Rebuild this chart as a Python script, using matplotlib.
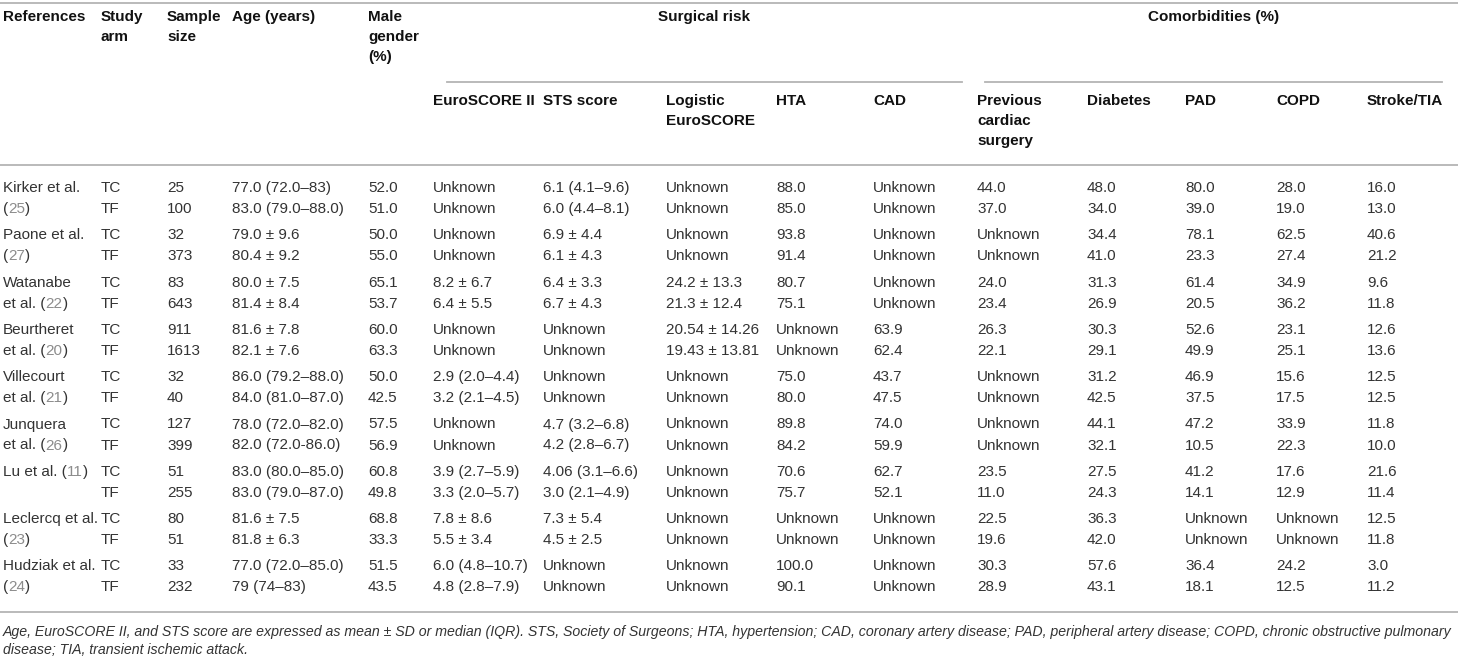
import matplotlib
matplotlib.use("Agg")
import matplotlib.pyplot as plt

plt.rcParams['font.family'] = ['Liberation Sans', 'DejaVu Sans']

# ---- table data ----
ref_top = ["Kirker et al.", "Paone et al.", "Watanabe", "Beurtheret", "Villecourt",
           "Junquera", "Lu et al. ({})", "Leclercq et al.", "Hudziak et al."]
ref_bottom = ["({})", "({})", "et al. ({})", "et al. ({})", "et al. ({})",
              "et al. ({})", "", "({})", "({})"]
cite_nums = [25, 27, 22, 20, 21, 26, 11, 23, 24]
study_arm = ["TC", "TF"]

sample_size = [25, 100, 32, 373, 83, 643, 911, 1613, 32, 40, 127, 399, 51, 255, 80, 51, 33, 232]
age = ["77.0 (72.0–83)", "83.0 (79.0–88.0)", "79.0 ± 9.6", "80.4 ± 9.2", "80.0 ± 7.5",
       "81.4 ± 8.4", "81.6 ± 7.8", "82.1 ± 7.6", "86.0 (79.2–88.0)", "84.0 (81.0–87.0)",
       "78.0 (72.0–82.0)", "82.0 (72.0-86.0)", "83.0 (80.0–85.0)", "83.0 (79.0–87.0)",
       "81.6 ± 7.5", "81.8 ± 6.3", "77.0 (72.0–85.0)", "79 (74–83)"]
male = ["52.0", "51.0", "50.0", "55.0", "65.1", "53.7", "60.0", "63.3", "50.0", "42.5",
        "57.5", "56.9", "60.8", "49.8", "68.8", "33.3", "51.5", "43.5"]
euroscore2 = ["Unknown", "Unknown", "Unknown", "Unknown", "8.2 ± 6.7", "6.4 ± 5.5",
              "Unknown", "Unknown", "2.9 (2.0–4.4)", "3.2 (2.1–4.5)", "Unknown", "Unknown",
              "3.9 (2.7–5.9)", "3.3 (2.0–5.7)", "7.8 ± 8.6", "5.5 ± 3.4",
              "6.0 (4.8–10.7)", "4.8 (2.8–7.9)"]
sts = ["6.1 (4.1–9.6)", "6.0 (4.4–8.1)", "6.9 ± 4.4", "6.1 ± 4.3", "6.4 ± 3.3", "6.7 ± 4.3",
       "Unknown", "Unknown", "Unknown", "Unknown", "4.7 (3.2–6.8)", "4.2 (2.8–6.7)",
       "4.06 (3.1–6.6)", "3.0 (2.1–4.9)", "7.3 ± 5.4", "4.5 ± 2.5", "Unknown", "Unknown"]
logistic = ["Unknown", "Unknown", "Unknown", "Unknown", "24.2 ± 13.3", "21.3 ± 12.4",
            "20.54 ± 14.26", "19.43 ± 13.81", "Unknown", "Unknown", "Unknown", "Unknown",
            "Unknown", "Unknown", "Unknown", "Unknown", "Unknown", "Unknown"]
hta = ["88.0", "85.0", "93.8", "91.4", "80.7", "75.1", "Unknown", "Unknown", "75.0", "80.0",
       "89.8", "84.2", "70.6", "75.7", "Unknown", "Unknown", "100.0", "90.1"]
cad = ["Unknown", "Unknown", "Unknown", "Unknown", "Unknown", "Unknown", "63.9", "62.4",
       "43.7", "47.5", "74.0", "59.9", "62.7", "52.1", "Unknown", "Unknown", "Unknown", "Unknown"]
prev_surgery = ["44.0", "37.0", "Unknown", "Unknown", "24.0", "23.4", "26.3", "22.1", "Unknown",
                "Unknown", "Unknown", "Unknown", "23.5", "11.0", "22.5", "19.6", "30.3", "28.9"]
diabetes = ["48.0", "34.0", "34.4", "41.0", "31.3", "26.9", "30.3", "29.1", "31.2", "42.5",
            "44.1", "32.1", "27.5", "24.3", "36.3", "42.0", "57.6", "43.1"]
pad = ["80.0", "39.0", "78.1", "23.3", "61.4", "20.5", "52.6", "49.9", "46.9", "37.5", "47.2",
       "10.5", "41.2", "14.1", "Unknown", "Unknown", "36.4", "18.1"]
copd = ["28.0", "19.0", "62.5", "27.4", "34.9", "36.2", "23.1", "25.1", "15.6", "17.5", "33.9",
        "22.3", "17.6", "12.9", "Unknown", "Unknown", "24.2", "12.5"]
stroke = ["16.0", "13.0", "40.6", "21.2", "9.6", "11.8", "12.6", "13.6", "12.5", "12.5", "11.8",
          "10.0", "21.6", "11.4", "12.5", "11.8", "3.0", "11.2"]

headers_top = [["References"], ["Study", "arm"], ["Sample", "size"], ["Age (years)"],
               ["Male", "gender", "(%)"]]
headers_sub = [["EuroSCORE II"], ["STS score"], ["Logistic", "EuroSCORE"], ["HTA"], ["CAD"],
               ["Previous", "cardiac", "surgery"], ["Diabetes"], ["PAD"], ["COPD"], ["Stroke/TIA"]]
group_titles = ["Surgical risk", "Comorbidities (%)"]

footnote = ["Age, EuroSCORE II, and STS score are expressed as mean ± SD or median (IQR). "
            "STS, Society of Surgeons; HTA, hypertension; CAD, coronary artery disease; "
            "PAD, peripheral artery disease; COPD, chronic obstructive pulmonary",
            "disease; TIA, transient ischemic attack."]

# ---- layout ----
W, H = 1458, 659
fig = plt.figure(figsize=(W / 100, H / 100), dpi=100)
ax = fig.add_axes([0, 0, 1, 1])
ax.set_xlim(0, W)
ax.set_ylim(H, 0)
ax.axis('off')

FS = 11
TXT = '#333333'
HEAD = '#111111'
GRAY = '#8c8c8c'
LINE = '#b4b4b4'

top_x = [3, 101, 167, 232, 368]
sub_x = [433, 543, 666, 776, 873, 977, 1087, 1185, 1276, 1367]
line_h = 20

for x, lines in zip(top_x, headers_top):
    for k, s in enumerate(lines):
        ax.text(x, 17 + k * line_h, s, fontsize=FS, fontweight='bold', color=HEAD, va='center')
for x, lines in zip(sub_x, headers_sub):
    for k, s in enumerate(lines):
        ax.text(x, 101 + k * line_h, s, fontsize=FS, fontweight='bold', color=HEAD, va='center')

# group titles with underline
groups = [(447, 962), (985, 1442)]
for (x0, x1), title in zip(groups, group_titles):
    ax.text((x0 + x1) / 2, 17, title, fontsize=FS, fontweight='bold', color=HEAD,
            va='center', ha='center')
    ax.plot([x0, x1], [82, 82], color=LINE, lw=1.3)

for y in (3, 165, 612):
    ax.plot([0, W], [y, y], color=LINE, lw=1.3)

fig.canvas.draw()
renderer = fig.canvas.get_renderer()


def cite_text(x, y, template, num):
    # draw text with a gray citation number in place of {}
    if not template:
        return
    if "{}" not in template:
        ax.text(x, y, template, fontsize=FS, color=TXT, va='center')
        return
    before, after = template.split("{}")
    for s, c in [(before, TXT), (str(num), GRAY), (after, TXT)]:
        if not s:
            continue
        t = ax.text(x, y, s, fontsize=FS, color=c, va='center')
        x += t.get_window_extent(renderer).width


value_cols = [sample_size, age, male, euroscore2, sts, logistic, hta, cad,
              prev_surgery, diabetes, pad, copd, stroke]
value_x = [167, 232, 368] + sub_x

for i in range(len(cite_nums)):
    y0 = 188 + i * 47.3
    cite_text(3, y0, ref_top[i], cite_nums[i])
    cite_text(3, y0 + 21, ref_bottom[i], cite_nums[i])
    for j, arm in enumerate(study_arm):
        r = 2 * i + j
        yy = y0 + j * 21
        ax.text(101, yy, arm, fontsize=FS, color=TXT, va='center')
        for x, col in zip(value_x, value_cols):
            ax.text(x, yy, str(col[r]), fontsize=FS, color=TXT, va='center')

for k, s in enumerate(footnote):
    ax.text(3, 632 + k * 18, s, fontsize=10.13, style='italic', color=TXT, va='center')

fig.savefig("out.png", dpi=100)
